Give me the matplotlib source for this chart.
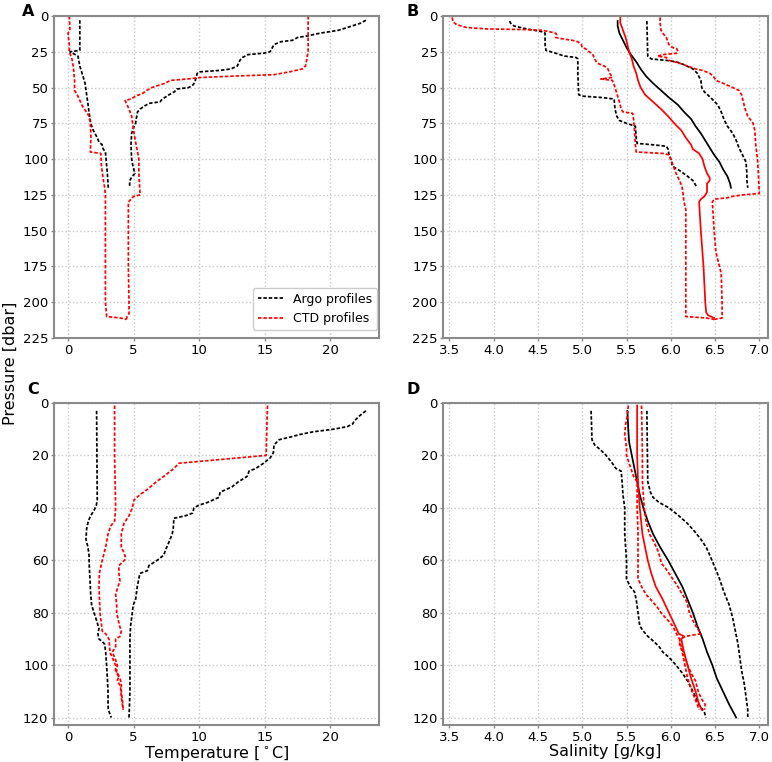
import matplotlib
matplotlib.use("Agg")
import matplotlib.pyplot as plt

# ---- Panel A: temperature, pressure 0-225 ----
a_argo_min_p = [3, 24, 25, 28, 35, 43, 47, 55, 60, 67, 75, 80, 85, 88, 90, 93, 95, 100, 110, 120]
a_argo_min_t = [0.9, 0.9, 0.15, 0.76, 0.9, 1.17, 1.3, 1.42, 1.5, 1.6, 1.73, 1.93, 2.23, 2.36, 2.6, 2.69, 2.85, 2.9, 3.0, 3.07]
a_argo_max_p = [3, 5, 8, 10, 12, 14, 15, 17, 18, 20, 25, 26, 27, 29, 31, 35, 37, 38, 39, 40, 45, 48, 50,
                51, 53, 55, 58, 60, 61, 63, 65, 67, 72, 75, 78, 82, 90, 100, 105, 110, 112, 115, 120]
a_argo_max_t = [22.7, 22.3, 21.3, 20.6, 19.2, 18.2, 17.5, 17.1, 16.2, 15.7, 15.4, 14.9, 13.7, 13.3, 13.1,
                12.9, 12.4, 11.6, 10.05, 9.85, 9.7, 9.55, 9.2, 8.3, 8.1, 7.7, 7.2, 7.0, 6.2, 5.8, 5.5,
                5.3, 5.2, 5.15, 5.0, 4.85, 4.8, 4.85, 4.95, 5.1, 4.9, 4.7, 4.7]
a_ctd_min_p = [0, 10, 12, 20, 25, 30, 35, 40, 45, 52, 55, 58, 63, 67, 70, 75, 85, 95, 96, 105, 115, 120,
               125, 150, 175, 200, 210, 211, 212]
a_ctd_min_t = [0.1, 0.15, 0.0, 0.1, 0.1, 0.3, 0.4, 0.45, 0.5, 0.5, 0.7, 0.85, 1.1, 1.4, 1.6, 1.7, 1.75,
               1.7, 2.5, 2.55, 2.7, 2.8, 2.85, 2.85, 2.85, 2.85, 2.95, 4.0, 4.45]
a_ctd_max_p = [0, 15, 20, 25, 35, 37, 39, 41, 42, 43, 44, 45, 47, 49, 50, 52, 54, 56, 58, 59, 60, 65,
               70, 80, 88, 95, 100, 110, 118, 125, 126, 128, 130, 150, 175, 200, 208, 210, 212]
a_ctd_max_t = [18.3, 18.3, 18.3, 18.3, 18.1, 17.85, 16.9, 15.7, 12.6, 10.1, 9.1, 7.8, 7.4, 6.7, 6.4, 6.0,
               5.7, 5.15, 4.8, 4.35, 4.4, 4.65, 4.85, 5.0, 5.15, 5.3, 5.4, 5.4, 5.45, 5.5, 5.0, 4.8,
               4.6, 4.6, 4.6, 4.65, 4.65, 4.5, 4.45]

# ---- Panel B: salinity, pressure 0-225 ----
b_argo_min_p = [3.5, 5, 7, 9, 10, 11, 12, 20, 24, 26, 28, 29, 30, 40, 55, 56, 57, 58, 65, 70, 73, 75,
                77, 85, 89, 90, 91, 93, 97, 100, 105, 108, 112, 115, 118, 120]
b_argo_min_s = [4.18, 4.19, 4.23, 4.37, 4.46, 4.55, 4.58, 4.58, 4.59, 4.7, 4.8, 4.93, 4.95, 4.95, 4.96,
                5.0, 5.23, 5.36, 5.37, 5.39, 5.42, 5.5, 5.6, 5.61, 5.62, 5.8, 5.95, 5.97, 5.98, 6.0,
                6.02, 6.1, 6.19, 6.25, 6.28, 6.29]
b_argo_max_p = [3.5, 28, 30, 31, 32, 34, 37, 40, 45, 50, 53, 57, 62, 67, 72, 77, 82, 87, 92, 97, 102,
                110, 115, 120]
b_argo_max_s = [5.73, 5.74, 5.78, 5.95, 6.06, 6.15, 6.25, 6.3, 6.34, 6.35, 6.38, 6.45, 6.53, 6.57, 6.6,
                6.64, 6.7, 6.74, 6.77, 6.81, 6.85, 6.86, 6.86, 6.87]
b_argo_mean_p = [3.5, 7, 12, 17, 22, 27, 32, 37, 42, 47, 52, 57, 62, 67, 72, 77, 82, 87, 92, 97, 102,
                 107, 112, 117, 120]
b_argo_mean_s = [5.40, 5.40, 5.42, 5.46, 5.5, 5.55, 5.61, 5.66, 5.72, 5.8, 5.89, 5.98, 6.08, 6.15, 6.23,
                 6.28, 6.34, 6.39, 6.44, 6.49, 6.55, 6.59, 6.64, 6.67, 6.68]
b_ctd_mean_p = [1, 5, 8, 10, 15, 20, 25, 30, 35, 40, 45, 50, 55, 60, 65, 70, 75, 80, 85, 90, 93, 96,
                100, 105, 110, 113, 115, 117, 120, 123, 126, 128, 130, 150, 175, 200, 207, 209, 211]
b_ctd_mean_s = [5.43, 5.43, 5.45, 5.46, 5.49, 5.51, 5.53, 5.56, 5.58, 5.61, 5.63, 5.66, 5.71, 5.8, 5.89,
                5.97, 6.04, 6.12, 6.17, 6.23, 6.25, 6.32, 6.36, 6.38, 6.41, 6.44, 6.44, 6.41, 6.41, 6.41,
                6.38, 6.34, 6.32, 6.34, 6.37, 6.39, 6.4, 6.42, 6.49]
b_ctd_min_p = [1, 4, 6, 8, 9, 9.5, 10, 11, 12, 13, 15, 16, 17, 18, 20, 22, 23, 25, 27, 30, 33, 35, 37,
               40, 43, 44, 45, 48, 52, 56, 60, 65, 67, 68, 72, 80, 90, 95, 96, 97, 100, 105, 110, 115,
               120, 125, 130, 135, 150, 175, 200, 210, 211, 212]
b_ctd_min_s = [3.53, 3.54, 3.58, 3.69, 3.91, 4.37, 4.55, 4.63, 4.7, 4.71, 4.7, 4.78, 4.89, 4.95, 4.99,
               5.0, 5.04, 5.08, 5.12, 5.14, 5.17, 5.25, 5.29, 5.31, 5.34, 5.21, 5.34, 5.36, 5.38, 5.4,
               5.42, 5.44, 5.46, 5.57, 5.58, 5.59, 5.6, 5.61, 5.91, 5.98, 6.0, 6.03, 6.06, 6.1, 6.13,
               6.14, 6.15, 6.17, 6.17, 6.17, 6.17, 6.17, 6.4, 6.49]
b_ctd_max_p = [1, 5, 10, 12, 15, 20, 22, 23, 25, 26, 27, 28, 29, 31, 33, 35, 37, 38, 40, 42, 45, 47,
               50, 52, 55, 60, 65, 70, 74, 75, 80, 90, 100, 110, 124, 125, 126, 127, 128, 130, 150,
               165, 175, 180, 200, 211, 212]
b_ctd_max_s = [5.88, 5.88, 5.89, 5.91, 5.95, 5.98, 6.02, 6.07, 6.08, 6.07, 5.91, 5.85, 5.95, 5.98, 6.1,
               6.19, 6.28, 6.36, 6.44, 6.48, 6.51, 6.59, 6.7, 6.77, 6.8, 6.82, 6.84, 6.87, 6.92, 6.93,
               6.95, 6.96, 6.98, 6.99, 7.0, 6.81, 6.7, 6.64, 6.49, 6.47, 6.49, 6.51, 6.55, 6.57, 6.58,
               6.58, 6.49]

# ---- Panel C: temperature, pressure 0-120 ----
c_argo_min_p = [3, 37, 39, 41, 43, 45, 48, 52, 55, 58, 62, 68, 73, 77, 80, 83, 86, 88, 90, 91, 92, 95,
                100, 105, 110, 115, 117, 120]
c_argo_min_t = [2.18, 2.23, 2.16, 1.98, 1.73, 1.55, 1.42, 1.37, 1.52, 1.6, 1.62, 1.68, 1.73, 1.8, 1.98,
                2.18, 2.36, 2.28, 2.36, 2.61, 2.79, 2.87, 2.94, 3.0, 3.05, 3.05, 3.07, 3.3]
c_argo_max_p = [3, 5, 7, 8, 9, 10, 11, 12, 13, 14, 16, 19, 21, 23, 25, 26, 28, 30, 32, 34, 36, 38, 39,
                40, 42, 43, 44, 48, 50, 53, 56, 58, 60, 62, 64, 65, 67, 70, 75, 77, 80, 85, 90, 100,
                110, 120]
c_argo_max_t = [22.7, 22.2, 21.8, 21.7, 21.3, 20.25, 18.7, 17.7, 16.95, 16.1, 15.7, 15.65, 15.4, 14.9,
                14.3, 13.8, 13.65, 13.0, 12.5, 11.6, 11.5, 10.6, 9.97, 9.6, 9.5, 8.96, 8.07, 8.02, 7.94,
                7.7, 7.44, 7.3, 6.8, 6.17, 6.04, 5.48, 5.4, 5.28, 5.15, 4.97, 4.9, 4.77, 4.72, 4.72,
                4.72, 4.65]
c_ctd_min_p = [1, 20, 40, 45, 47, 50, 55, 60, 65, 70, 80, 87, 88, 90, 95, 98, 100, 102, 104, 106, 108,
               112, 115, 117]
c_ctd_min_t = [3.55, 3.55, 3.63, 3.55, 3.25, 3.05, 2.87, 2.61, 2.39, 2.36, 2.44, 2.61, 2.87, 3.12, 3.2,
               3.45, 3.63, 3.63, 3.88, 3.76, 4.0, 4.06, 4.14, 4.21]
c_ctd_max_p = [1, 20, 23, 25, 28, 30, 33, 35, 37, 40, 43, 46, 50, 55, 57, 59, 60, 62, 65, 68, 70, 73,
               77, 80, 85, 87, 89, 90, 93, 95, 98, 100, 103, 105, 107, 110, 113, 117]
c_ctd_max_t = [15.2, 15.1, 8.45, 8.07, 7.3, 6.75, 6.04, 5.48, 5.03, 4.9, 4.65, 4.26, 4.06, 4.06, 4.26,
               4.39, 4.3, 3.88, 3.88, 3.96, 3.81, 3.63, 3.71, 3.71, 3.93, 4.06, 3.96, 3.63, 3.63, 3.38,
               3.63, 3.76, 3.68, 3.96, 4.06, 4.06, 4.14, 4.21]

# ---- Panel D: salinity, pressure 0-120 ----
d_argo_min_p = [3, 14, 16, 18, 20, 23, 25, 26, 30, 35, 40, 50, 60, 67, 70, 72, 75, 80, 85, 87, 89, 91,
                93, 95, 97, 100, 103, 106, 110, 115, 118, 120]
d_argo_min_s = [5.1, 5.11, 5.14, 5.21, 5.27, 5.34, 5.38, 5.44, 5.45, 5.46, 5.48, 5.48, 5.5, 5.5, 5.54,
                5.59, 5.61, 5.63, 5.65, 5.69, 5.74, 5.81, 5.87, 5.91, 5.98, 6.06, 6.13, 6.19, 6.25, 6.32,
                6.38, 6.4]
d_argo_max_p = [3, 30, 34, 36, 38, 40, 43, 46, 49, 52, 55, 58, 62, 67, 72, 77, 82, 87, 92, 97, 102,
                107, 112, 117, 120]
d_argo_max_s = [5.73, 5.74, 5.77, 5.8, 5.87, 5.98, 6.09, 6.19, 6.27, 6.34, 6.4, 6.44, 6.49, 6.55, 6.6,
                6.66, 6.7, 6.73, 6.76, 6.78, 6.8, 6.83, 6.85, 6.87, 6.87]
d_argo_mean_p = [3, 10, 15, 20, 25, 30, 35, 40, 45, 50, 55, 60, 65, 70, 75, 80, 85, 90, 95, 100, 105,
                 110, 115, 120]
d_argo_mean_s = [5.51, 5.52, 5.53, 5.56, 5.59, 5.62, 5.65, 5.69, 5.74, 5.8, 5.88, 5.97, 6.05, 6.13,
                 6.19, 6.25, 6.3, 6.36, 6.41, 6.47, 6.52, 6.59, 6.66, 6.74]
d_ctd_mean_p = [1, 20, 30, 40, 50, 55, 60, 65, 70, 75, 80, 85, 88, 89, 90, 92, 95, 100, 105, 110, 115, 117]
d_ctd_mean_s = [5.62, 5.62, 5.63, 5.65, 5.68, 5.71, 5.74, 5.78, 5.83, 5.91, 5.98, 6.05, 6.09, 6.15,
                6.12, 6.13, 6.15, 6.19, 6.23, 6.28, 6.32, 6.35]
d_ctd_min_p = [1, 5, 8, 12, 17, 20, 25, 28, 30, 32, 40, 50, 60, 67, 70, 73, 76, 78, 80, 83, 85, 87, 89,
               90, 92, 95, 100, 105, 110, 115, 117]
d_ctd_min_s = [5.52, 5.51, 5.49, 5.48, 5.5, 5.5, 5.55, 5.58, 5.62, 5.62, 5.62, 5.63, 5.63, 5.63, 5.67,
               5.72, 5.8, 5.85, 5.89, 5.97, 6.02, 6.05, 6.08, 6.1, 6.1, 6.13, 6.16, 6.19, 6.24, 6.3, 6.32]
d_ctd_max_p = [1, 20, 30, 40, 45, 50, 53, 56, 59, 61, 63, 66, 70, 73, 75, 77, 80, 83, 86, 88, 89, 90,
               92, 95, 100, 103, 106, 110, 113, 115, 117]
d_ctd_max_s = [5.67, 5.68, 5.68, 5.7, 5.72, 5.76, 5.81, 5.85, 5.88, 5.89, 5.94, 6.0, 6.08, 6.13, 6.17,
               6.19, 6.21, 6.25, 6.3, 6.34, 6.17, 6.1, 6.11, 6.14, 6.19, 6.23, 6.28, 6.31, 6.35, 6.39, 6.38]

temp_xlim = (-1.07, 23.7)
sal_xlim = (3.43, 7.095)

dash = dict(linestyle="--", dashes=(2.0, 1.1), linewidth=1.25)
solid = dict(linestyle="-", linewidth=1.25)
spine_col = "#8a8a8a"


def style_axes(ax, ylim, yticks, xticks, xlim):
    ax.set_xlim(*xlim)
    ax.set_ylim(*ylim)
    ax.set_yticks(yticks)
    ax.set_xticks(xticks)
    ax.grid(True, linestyle=":", color="#c8c8c8", linewidth=1.0)
    ax.set_axisbelow(True)
    for sp in ax.spines.values():
        sp.set_color(spine_col)
        sp.set_linewidth(1.5)
    ax.tick_params(colors=spine_col, labelcolor="black", labelsize=9.5, length=2.5, width=1.0, pad=1.5)


fig = plt.figure(figsize=(7.72, 7.62), dpi=100)
axA = fig.add_axes([0.0699, 0.5564, 0.4210, 0.4226])
axB = fig.add_axes([0.5742, 0.5564, 0.4202, 0.4226])
axC = fig.add_axes([0.0699, 0.0486, 0.4210, 0.4226])
axD = fig.add_axes([0.5742, 0.0486, 0.4202, 0.4226])

# A
axA.plot(a_argo_min_t, a_argo_min_p, color="k", label="Argo profiles", **dash)
axA.plot(a_argo_max_t, a_argo_max_p, color="k", **dash)
axA.plot(a_ctd_min_t, a_ctd_min_p, color="r", label="CTD profiles", **dash)
axA.plot(a_ctd_max_t, a_ctd_max_p, color="r", **dash)
style_axes(axA, (225, 0), range(0, 226, 25), range(0, 21, 5), temp_xlim)
axA.legend(loc="lower right", bbox_to_anchor=(0.994, 0.025), borderaxespad=0, fontsize=9,
           handlelength=2.0, framealpha=1.0)

# B
axB.plot(b_argo_min_s, b_argo_min_p, color="k", **dash)
axB.plot(b_argo_max_s, b_argo_max_p, color="k", **dash)
axB.plot(b_argo_mean_s, b_argo_mean_p, color="k", **solid)
axB.plot(b_ctd_min_s, b_ctd_min_p, color="r", **dash)
axB.plot(b_ctd_max_s, b_ctd_max_p, color="r", **dash)
axB.plot(b_ctd_mean_s, b_ctd_mean_p, color="r", **solid)
style_axes(axB, (225, 0), range(0, 226, 25), [3.5, 4.0, 4.5, 5.0, 5.5, 6.0, 6.5, 7.0], sal_xlim)

# C
axC.plot(c_argo_min_t, c_argo_min_p, color="k", **dash)
axC.plot(c_argo_max_t, c_argo_max_p, color="k", **dash)
axC.plot(c_ctd_min_t, c_ctd_min_p, color="r", **dash)
axC.plot(c_ctd_max_t, c_ctd_max_p, color="r", **dash)
style_axes(axC, (122.8, 0), range(0, 121, 20), range(0, 21, 5), temp_xlim)
axC.set_xlabel(r"Temperature [$^\circ$C]", fontsize=11.5, labelpad=0)

# D
axD.plot(d_argo_min_s, d_argo_min_p, color="k", **dash)
axD.plot(d_argo_max_s, d_argo_max_p, color="k", **dash)
axD.plot(d_argo_mean_s, d_argo_mean_p, color="k", **solid)
axD.plot(d_ctd_min_s, d_ctd_min_p, color="r", **dash)
axD.plot(d_ctd_max_s, d_ctd_max_p, color="r", **dash)
axD.plot(d_ctd_mean_s, d_ctd_mean_p, color="r", **solid)
style_axes(axD, (122.8, 0), range(0, 121, 20), [3.5, 4.0, 4.5, 5.0, 5.5, 6.0, 6.5, 7.0], sal_xlim)
axD.set_xlabel("Salinity [g/kg]", fontsize=11.5, labelpad=0)

# panel letters and shared y label
fig.text(22 / 772, 1 - 16 / 762, "A", fontsize=11.5, fontweight="bold")
fig.text(406 / 772, 1 - 16 / 762, "B", fontsize=11.5, fontweight="bold")
fig.text(27 / 772, 1 - 394 / 762, "C", fontsize=11.5, fontweight="bold")
fig.text(406 / 772, 1 - 394 / 762, "D", fontsize=11.5, fontweight="bold")
fig.text(10 / 772, 1 - 363 / 762, "Pressure [dbar]", rotation=90, fontsize=11.5, va="center", ha="center")

fig.savefig("out.png", dpi=100)
